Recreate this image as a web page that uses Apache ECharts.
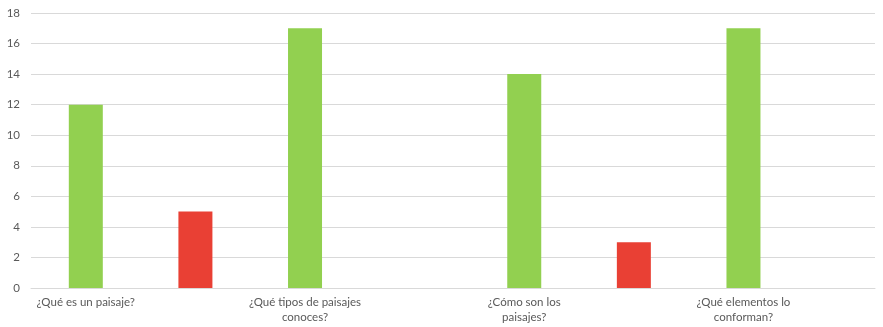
<!DOCTYPE html>
<html>
<head>
<meta charset="utf-8">
<script src="https://cdn.jsdelivr.net/npm/echarts@6/dist/echarts.min.js"></script>
<style>html,body{margin:0;padding:0;background:#fff;}#c{width:883px;height:327px;}</style>
</head>
<body>
<div id="c"></div>
<script>
const categories = ["¿Qué es un paisaje?", "¿Qué tipos de paisajes\nconoces?", "¿Cómo son los\npaisajes?", "¿Qué elementos lo\nconforman?"];
const greenValues = [12, 17, 14, 17];
const redValues = [5, 0, 3, 0];
const yTicks = [0, 2, 4, 6, 8, 10, 12, 14, 16, 18];

const chart = echarts.init(document.getElementById('c'), null, {renderer: 'canvas'});
const labelPos = categories.map((c, i) => 2 * i);
const greenData = greenValues.map((v, i) => [2 * i, v]);
const redData = redValues.map((v, i) => [2 * i + 1, v]);

chart.setOption({
  animation: false,
  grid: {left: 31, right: 8, top: 13, bottom: 39, containLabel: false},
  xAxis: {
    type: 'value',
    min: -0.5,
    max: 7.2,
    splitLine: {show: false},
    axisLine: {show: true, lineStyle: {color: '#d9d9d9', width: 1}},
    axisTick: {show: false},
    axisLabel: {
      customValues: labelPos,
      formatter: function (v) { const i = labelPos.indexOf(Math.round(v)); return i >= 0 ? categories[i] : ''; },
      color: '#595959',
      fontFamily: 'Lato',
      fontSize: 11.5,
      lineHeight: 15,
      margin: 7,
      align: 'center'
    }
  },
  yAxis: {
    type: 'value',
    min: 0,
    max: 18,
    interval: 2,
    axisLine: {show: false},
    axisTick: {show: false},
    splitLine: {lineStyle: {color: '#d9d9d9', width: 1}},
    axisLabel: {color: '#595959', fontFamily: 'Lato', fontSize: 11.5, margin: 11}
  },
  series: [
    {type: 'bar', data: greenData, barWidth: 34, itemStyle: {color: '#92d050'}},
    {type: 'bar', data: redData, barWidth: 34, barGap: '-100%', itemStyle: {color: '#e94034'}}
  ]
});
</script>
</body>
</html>
